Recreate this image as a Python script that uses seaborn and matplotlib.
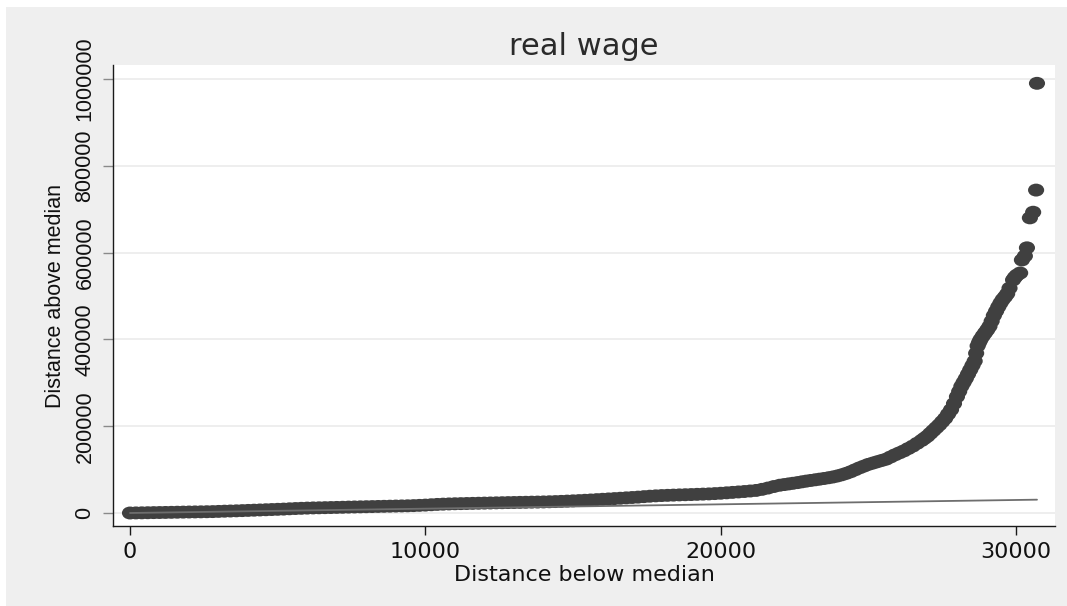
import matplotlib
matplotlib.use("Agg")
import matplotlib.pyplot as plt
from matplotlib.patches import Rectangle
from matplotlib.path import Path
from matplotlib.transforms import Affine2D
from matplotlib.ticker import FixedLocator, FuncFormatter
import seaborn as sns
import pandas as pd

# Symmetry plot of real wage: distance below vs. distance above the median
dist_below = [
    0, 200, 400, 600, 800, 1000, 1200, 1400, 1600, 1800,
    2000, 2200, 2400, 2600, 2800, 3000, 3200, 3400, 3600, 3800,
    4000, 4200, 4400, 4600, 4800, 5000, 5200, 5400, 5600, 5800,
    6000, 6200, 6400, 6600, 6800, 7000, 7200, 7400, 7600, 7800,
    8000, 8200, 8400, 8600, 8800, 9000, 9200, 9400, 9600, 9800,
    10000, 10200, 10400, 10600, 10800, 11000, 11200, 11400, 11600, 11800,
    12000, 12200, 12400, 12600, 12800, 13000, 13200, 13400, 13600, 13800,
    14000, 14200, 14400, 14600, 14800, 15000, 15200, 15400, 15600, 15800,
    16000, 16200, 16400, 16600, 16800, 17000, 17200, 17400, 17600, 17800,
    18000, 18200, 18400, 18600, 18800, 19000, 19200, 19400, 19600, 19800,
    20000, 20200, 20400, 20600, 20800, 21000, 21200, 21400, 21600, 21800,
    22000, 22150, 22300, 22450, 22600, 22750, 22900, 23050, 23200, 23350,
    23500, 23650, 23800, 23950, 24100, 24250, 24400, 24550, 24700, 24850,
    25000, 25150, 25300, 25450, 25600, 25750, 25900, 26050, 26200, 26350,
    26500, 26650, 26800, 26900, 27000, 27100, 27200, 27300, 27400, 27500,
    27600, 27700, 27800, 27900, 28000, 28075, 28150, 28225, 28300, 28375,
    28450, 28525, 28600, 28650, 28700, 28750, 28800, 28875, 28950, 29025,
    29100, 29175, 29250, 29325, 29400, 29475, 29550, 29625, 29700, 29780,
    29900, 29960, 30030, 30140, 30200, 30300, 30370, 30470, 30580, 30680,
    30710,
]
dist_above = [
    0, 200, 400, 650, 900, 1100, 1300, 1550, 1800, 2050,
    2300, 2500, 2700, 2950, 3200, 3700, 4200, 4600, 5000, 5500,
    6000, 6500, 7000, 7500, 8000, 8500, 9000, 9700, 10300, 10800,
    11300, 11700, 12000, 12300, 12600, 12900, 13200, 13600, 13900, 14200,
    14500, 14800, 15100, 15400, 15700, 16000, 16300, 16600, 17000, 17600,
    18200, 19000, 19800, 20400, 20900, 21300, 21600, 21900, 22200, 22500,
    22800, 23100, 23400, 23700, 24000, 24200, 24500, 24700, 25000, 25200,
    25500, 25900, 26300, 26800, 27400, 28000, 28600, 29300, 30000, 30800,
    31600, 32400, 33200, 34000, 34900, 35700, 36600, 37700, 38700, 39500,
    40200, 40700, 41200, 41700, 42100, 42500, 43000, 43500, 44000, 44700,
    45500, 46500, 47500, 48500, 49500, 50700, 52000, 54500, 57500, 61000,
    64000, 65500, 67000, 68500, 70000, 71800, 73500, 75000, 76500, 78000,
    79500, 81200, 83000, 85300, 88000, 91300, 95000, 99500, 104000, 108000,
    112000, 115000, 118000, 121000, 124000, 129000, 134000, 138500, 143000, 148500,
    154000, 160500, 167000, 172000, 177000, 183500, 190000, 196500, 203000, 210500,
    218000, 228000, 238000, 252000, 268000, 280000, 292000, 301000, 310000, 320000,
    330000, 340000, 350000, 368000, 385000, 393000, 400000, 408000, 415000, 422000,
    430000, 442000, 455000, 465000, 475000, 484000, 492000, 498000, 505000, 518000,
    537000, 543000, 548000, 553000, 583000, 592000, 611000, 680000, 693000, 744000,
    990000,
]

x_ticks = [0, 10000, 20000, 30000]
y_ticks = [0, 200000, 400000, 600000, 800000, 1000000]

title_text = "real wage"
x_title = "Distance below median"
y_title = "Distance above median"

df = pd.DataFrame({"below": dist_below, "above": dist_above})
ref = pd.DataFrame({"below": [0, max(dist_below)], "above": [0, max(dist_below)]})

sns.set_style("white")
plt.rcParams["font.family"] = ["DejaVu Sans"]

fig = plt.figure(figsize=(10.67, 6.06), dpi=100, facecolor="white")
fig.patches.append(Rectangle((6 / 1067, 0), 1 - 6 / 1067, 599 / 606,
                             transform=fig.transFigure, facecolor="#efefef",
                             edgecolor="none", zorder=-10))

ax = fig.add_axes([113 / 1067, 80 / 606, 942 / 1067, 461 / 606])
ax.set_facecolor("white")

# slightly wide oval marker
oval = Affine2D().scale(1.25, 1.0).transform_path(Path.unit_circle())

sns.scatterplot(data=df, x="below", y="above", ax=ax, marker=oval, s=135,
                color="#404040", edgecolor="none", linewidth=0, zorder=3,
                legend=False)
sns.lineplot(data=ref, x="below", y="above", ax=ax, color="#6e6e6e",
             linewidth=1.3, zorder=4, legend=False)

ax.set_xlim(-576, 31320)
ax.set_ylim(-29950, 1032200)

ax.xaxis.set_major_locator(FixedLocator(x_ticks))
ax.yaxis.set_major_locator(FixedLocator(y_ticks))
fmt = FuncFormatter(lambda v, p: f"{int(round(v))}")
ax.xaxis.set_major_formatter(fmt)
ax.yaxis.set_major_formatter(fmt)

ax.grid(axis="y", color="#ebebeb", linewidth=1.2, zorder=0)
ax.grid(axis="x", visible=False)
ax.set_axisbelow(True)

for side in ("top", "right"):
    ax.spines[side].set_visible(False)
for side in ("left", "bottom"):
    ax.spines[side].set_color("#1a1a1a")
    ax.spines[side].set_linewidth(1.0)

ax.tick_params(axis="x", which="major", length=6.5, width=1.0, color="#1a1a1a",
               pad=5, labelsize=16, labelcolor="#111111", bottom=True)
ax.tick_params(axis="y", which="major", length=7.2, width=1.0, color="#8a8a8a",
               pad=5.4, labelsize=15.5, labelcolor="#111111", left=True,
               labelrotation=90)
for lab in ax.get_yticklabels():
    lab.set_fontfamily("Liberation Sans")
    lab.set_verticalalignment("center")

ax.set_xlabel(x_title, fontsize=16, color="#111111", labelpad=2)
ax.set_ylabel(y_title, fontsize=15.5, color="#111111", labelpad=6,
              fontfamily="Liberation Sans")
ax.set_title(title_text, fontsize=22, color="#2a2a2a", pad=7)

fig.savefig("out.png", dpi=100, facecolor=fig.get_facecolor())
